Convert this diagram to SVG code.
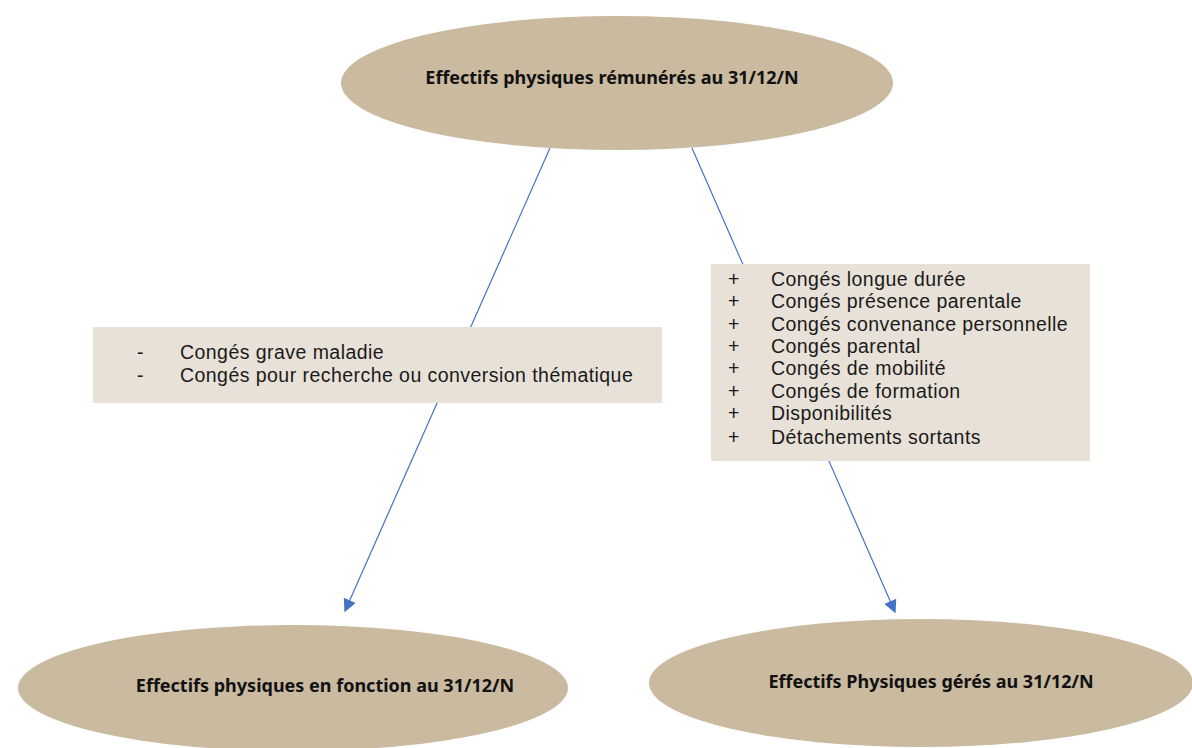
<svg xmlns="http://www.w3.org/2000/svg" width="1192" height="748" viewBox="0 0 1192 748">
<defs>
<style>
.ell{fill:#c9baa0}
.box{fill:#e8e1d8}
.t{font-family:"Liberation Sans",Arial,sans-serif;font-size:19.5px;letter-spacing:0.45px;fill:#1a1a1a}
.b{font-family:"Noto Sans","Open Sans",sans-serif;font-size:18px;font-weight:bold;fill:#111;text-anchor:middle}
.ln{stroke:#4472c4;stroke-width:1.2;fill:none}
</style>
<marker id="arr" viewBox="0 0 10 10" refX="9" refY="5" markerWidth="14" markerHeight="13" markerUnits="userSpaceOnUse" orient="auto">
<path d="M0,0 L10,5 L0,10 Z" fill="#4472c4"/>
</marker>
</defs>
<rect width="1192" height="748" fill="#fff"/>
<g id="connectors">
<line class="ln" x1="550" y1="148" x2="345" y2="611" marker-end="url(#arr)"/>
<line class="ln" x1="692" y1="148" x2="895" y2="612" marker-end="url(#arr)"/>
</g>
<g id="top">
<ellipse class="ell" cx="617" cy="83" rx="276" ry="67"/>
<text class="b" x="612" y="84">Effectifs physiques rémunérés au 31/12/N</text>
</g>
<g id="left-box">
<rect class="box" x="93" y="327" width="569" height="76"/>
<text class="t"><tspan x="137" y="359">-</tspan><tspan x="180" y="359">Congés grave maladie</tspan><tspan x="137" y="382">-</tspan><tspan x="180" y="382">Congés pour recherche ou conversion thématique</tspan></text>
</g>
<g id="right-box">
<rect class="box" x="711" y="264" width="379" height="197"/>
<text class="t"><tspan x="728" y="286">+</tspan><tspan x="771" y="286">Congés longue durée</tspan><tspan x="728" y="308">+</tspan><tspan x="771" y="308">Congés présence parentale</tspan><tspan x="728" y="331">+</tspan><tspan x="771" y="331">Congés convenance personnelle</tspan><tspan x="728" y="353">+</tspan><tspan x="771" y="353">Congés parental</tspan><tspan x="728" y="375">+</tspan><tspan x="771" y="375">Congés de mobilité</tspan><tspan x="728" y="398">+</tspan><tspan x="771" y="398">Congés de formation</tspan><tspan x="728" y="420">+</tspan><tspan x="771" y="420">Disponibilités</tspan><tspan x="728" y="444">+</tspan><tspan x="771" y="444">Détachements sortants</tspan></text>
</g>
<g id="bottom-left">
<ellipse class="ell" cx="293" cy="688" rx="275" ry="63"/>
<text class="b" x="325" y="692">Effectifs physiques en fonction au 31/12/N</text>
</g>
<g id="bottom-right">
<ellipse class="ell" cx="921" cy="683" rx="272" ry="64"/>
<text class="b" x="931" y="688">Effectifs Physiques gérés au 31/12/N</text>
</g>
</svg>
